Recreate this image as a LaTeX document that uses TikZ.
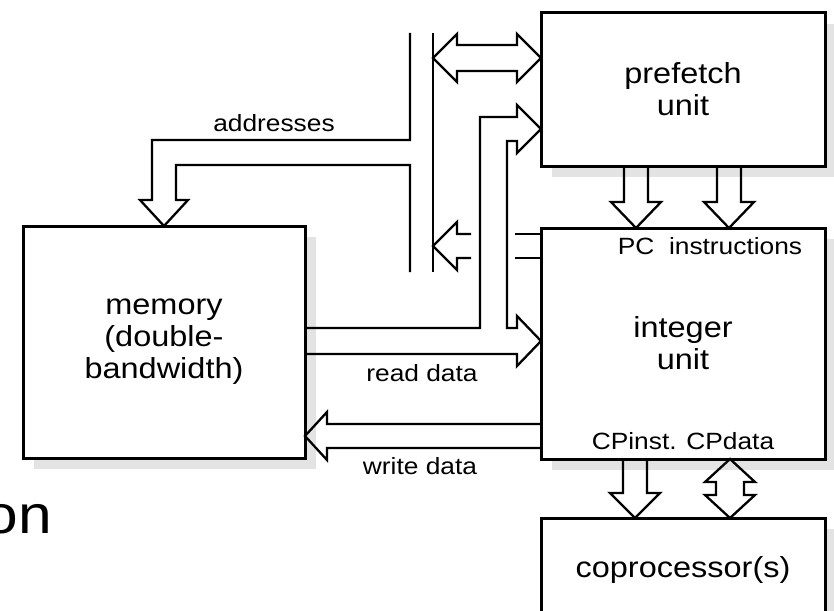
\documentclass[tikz,border=0pt]{standalone}
\usepackage{fontspec}
\setmainfont{Liberation Sans}[FakeStretch=1.12]
\usepackage{tikz}
\usetikzlibrary{positioning, shadows}
\definecolor{shadowgray}{RGB}{227,227,227}

\begin{document}
\begin{tikzpicture}[
  x=1pt, y=-1pt,
  unitbox/.style={draw, line width=3pt, fill=white, inner sep=0pt, outer sep=0pt,
    align=center, minimum width=284pt, font=\fontsize{29}{32}\selectfont,
    drop shadow={shadow xshift=11pt, shadow yshift=-11pt, fill=shadowgray, opacity=1}},
  blk/.style={line width=2.3pt, line join=miter},
  lbl/.style={inner sep=0pt, font=\fontsize{23.5}{26}\selectfont}
]
\useasboundingbox (0,0) rectangle (834,610);
\clip (0,0) rectangle (834,610);

\node[unitbox, minimum height=153pt] (prefetch) at (683,89.5) {prefetch\\unit};
\node[unitbox, minimum height=231pt, below=62pt of prefetch] (intunit) {integer\\unit};
\node[unitbox, minimum height=104pt, below=59pt of intunit] (copro) {coprocessor(s)};
\node[unitbox, minimum width=282pt, minimum height=232pt] (memory) at (164,342) {memory\\(double-\\bandwidth)};

\node[lbl] (addr) at (274,123) {addresses};
\node[lbl] (rdlbl) at (422,373) {read data};
\node[lbl] (wrlbl) at (420,466) {write data};
\node[lbl] (pclbl) at (710,246) {PC\ \ instructions};
\node[lbl] (cplbl) at (683,441) {CPinst. CPdata};
\node[inner sep=0pt, anchor=base east, font=\fontsize{54}{60}\selectfont] (onlbl) at (52,533) {on};

\draw[blk] (410,33) -- (410,140) -- (152,140) -- (152,200) -- (140,200) -- (memory.north)
  -- (188,200) -- (176,200) -- (176,165) -- (410,165) -- (410,272);
\draw[blk] (433,33) -- (433,272);

\draw[blk] (433,58) -- ++(24,-24) -- ++(0,11) -- (517,45) -- ++(0,-11) -- (prefetch.west |- 0,58)
  -- ++(-24,24) -- ++(0,-11) -- (457,71) -- ++(0,11) -- cycle;

\draw[blk] (471,234) -- (457,234) -- ++(0,-12) -- (433,246) -- ++(24,24) -- ++(0,-12) -- (471,258);
\draw[blk] (515,234) -- (intunit.west |- 0,234) (515,258) -- (intunit.west |- 0,258);

\draw[blk] (memory.east |- 0,328) -- (480,328) -- (480,117) -- (517,117) -- ++(0,-12)
  -- (prefetch.west |- 0,129) -- ++(-24,24) -- ++(0,-12) -- (507,141) -- (507,328)
  -- (517,328) -- ++(0,-12) -- (intunit.west |- 0,341) -- ++(-24,25) -- ++(0,-12)
  -- (memory.east |- 0,354);

\draw[blk] (intunit.west |- 0,424) -- (327,424) -- ++(0,-12) -- (memory.east |- 0,436)
  -- ++(22,24) -- ++(0,-12) -- (intunit.west |- 0,448);

\foreach \x in {636,729}
  \draw[blk] (\x-12,0 |- prefetch.south) -- (\x-12,202) -- (\x-25,202) -- (\x,0 |- intunit.north)
    -- (\x+25,202) -- (\x+12,202) -- (\x+12,0 |- prefetch.south);

\draw[blk] (623,0 |- intunit.south) -- (623,493) -- (610,493) -- (635,0 |- copro.north)
  -- (660,493) -- (647,493) -- (647,0 |- intunit.south);
\draw[blk] (730,0 |- intunit.south) -- (755,482) -- (744,482) -- (744,495) -- (755,495)
  -- (730,0 |- copro.north) -- (705,495) -- (716,495) -- (716,482) -- (705,482) -- cycle;
\end{tikzpicture}
\end{document}
